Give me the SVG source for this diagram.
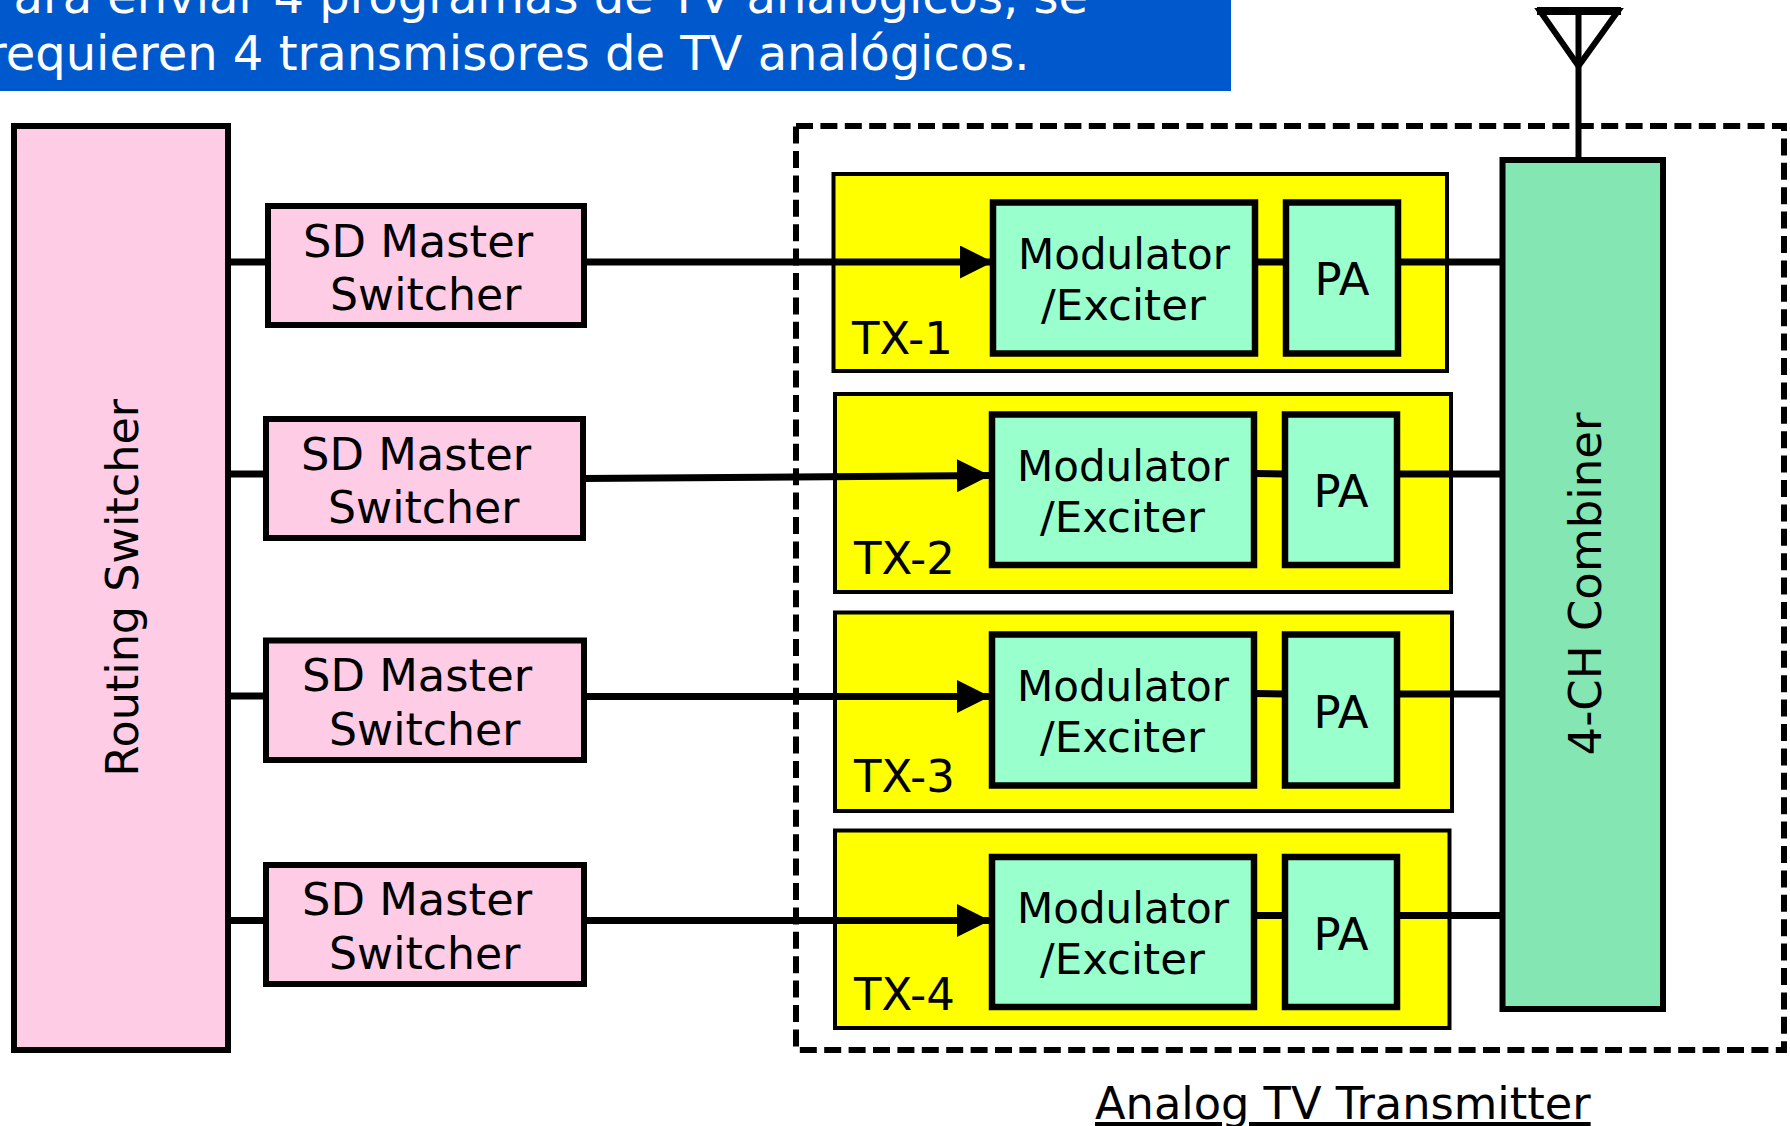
<svg xmlns="http://www.w3.org/2000/svg" width="1790" height="1126" viewBox="0 0 1790 1126">
<defs>
<style>
text{font-family:"DejaVu Sans",Verdana,sans-serif;fill:#000}
.sd{font-size:44.800px}
.s{font-size:44.200px}
.m{font-size:42px}
.e{font-size:43.500px}
.pa{font-size:45px}
.tx{font-size:45px}
.pink{fill:#FFCCE6;stroke:#000;stroke-width:6}
.mint{fill:#99FFCC;stroke:#000;stroke-width:6.500}
.yel{fill:#FFFF00;stroke:#000;stroke-width:4}
.w{fill:none;stroke:#000;stroke-width:7}
</style>
<marker id="ah" markerUnits="userSpaceOnUse" markerWidth="34" markerHeight="33" refX="33" refY="16.5" orient="auto"><path d="M0 0L33 16.5L0 33Z" fill="#000"/></marker>
</defs>
<rect width="1790" height="1126" fill="#fff"/>
<g id="banner">
<rect x="0" y="0" width="1231" height="91" fill="#0059CC"/>
<text x="13.500" y="13" font-size="48" style="fill:#fff">ara enviar 4 programas de TV analógicos, se</text>
<text x="-13" y="70" font-size="48" style="fill:#fff">requieren 4 transmisores de TV analógicos.</text>
</g>
<g id="analog-tv-transmitter">
<rect x="796" y="126" width="988" height="924" fill="none" stroke="#000" stroke-width="6" stroke-dasharray="17 7.4"/>
<text x="1095" y="1119" font-size="44.700" text-decoration="underline">Analog TV Transmitter</text>
</g>
<g id="routing-switcher">
<rect class="pink" x="14" y="126" width="214" height="924"/>
<text transform="translate(138 776.500) rotate(-90)" font-size="44.500">Routing Switcher</text>
</g>
<g id="sd-1"><rect class="pink" x="268" y="206" width="316" height="119"/><text class="sd" x="303" y="257">SD Master</text><text class="s" x="330" y="310">Switcher</text></g>
<g id="sd-2"><rect class="pink" x="266" y="419" width="317" height="119"/><text class="sd" x="301" y="470">SD Master</text><text class="s" x="328" y="523">Switcher</text></g>
<g id="sd-3"><rect class="pink" x="266" y="640.500" width="318" height="119.500"/><text class="sd" x="302" y="691">SD Master</text><text class="s" x="329" y="744.500">Switcher</text></g>
<g id="sd-4"><rect class="pink" x="266" y="865" width="318" height="119"/><text class="sd" x="302" y="915">SD Master</text><text class="s" x="329" y="968.500">Switcher</text></g>
<g id="tx-1"><rect class="yel" x="833.500" y="174" width="613.500" height="197"/><text class="tx" x="852" y="353.500">TX-1</text></g>
<g id="tx-2"><rect class="yel" x="835" y="394" width="616" height="198"/><text class="tx" x="854" y="574">TX-2</text></g>
<g id="tx-3"><rect class="yel" x="835" y="612.500" width="617" height="198.500"/><text class="tx" x="854" y="792">TX-3</text></g>
<g id="tx-4"><rect class="yel" x="835" y="830.500" width="614.500" height="197.500"/><text class="tx" x="854" y="1010">TX-4</text></g>
<g id="mod-1"><rect class="mint" x="993" y="202.500" width="262" height="151"/><text class="m" x="1018" y="269">Modulator</text><text class="e" x="1041" y="320">/Exciter</text></g>
<g id="pa-1"><rect class="mint" x="1286" y="202.500" width="112" height="151"/><text class="pa" x="1314.500" y="294.500">PA</text></g>
<g id="mod-2"><rect class="mint" x="992" y="414.500" width="262" height="150.500"/><text class="m" x="1017" y="481">Modulator</text><text class="e" x="1040" y="532">/Exciter</text></g>
<g id="pa-2"><rect class="mint" x="1285" y="414.500" width="112" height="150.500"/><text class="pa" x="1313.500" y="506.500">PA</text></g>
<g id="mod-3"><rect class="mint" x="992" y="634.500" width="262" height="151"/><text class="m" x="1017" y="701">Modulator</text><text class="e" x="1040" y="752">/Exciter</text></g>
<g id="pa-3"><rect class="mint" x="1285" y="634.500" width="112" height="151"/><text class="pa" x="1313.500" y="727.500">PA</text></g>
<g id="mod-4"><rect class="mint" x="992" y="857" width="262" height="150"/><text class="m" x="1017" y="923">Modulator</text><text class="e" x="1040" y="974">/Exciter</text></g>
<g id="pa-4"><rect class="mint" x="1285" y="857" width="112" height="150"/><text class="pa" x="1313.500" y="949.500">PA</text></g>
<g id="combiner"><rect x="1502.500" y="160" width="160.500" height="849" fill="#84E6B2" stroke="#000" stroke-width="6"/><text transform="translate(1601 755.500) rotate(-90)" font-size="45">4-CH Combiner</text></g>
<g id="antenna"><path d="M1540 11H1618L1578.500 66Z" fill="none" stroke="#000" stroke-width="6"/><path d="M1537 11H1621" fill="none" stroke="#000" stroke-width="8"/></g>
<g id="connectors" class="w">
<path d="M229 262H268"/><path d="M225 474H266"/><path d="M225 696H266"/><path d="M225 920.500H266"/>
<path d="M584 262H993" marker-end="url(#ah)"/>
<path d="M583 478.500L990 475.500" marker-end="url(#ah)"/>
<path d="M584 696.500H990" marker-end="url(#ah)"/>
<path d="M584 920.500H990" marker-end="url(#ah)"/>
<path d="M1255 262H1286"/><path d="M1254 473.500L1285 474"/><path d="M1254 693.500L1285 694"/><path d="M1254 915.500H1285"/>
<path d="M1398 262H1502"/><path d="M1397 474H1502"/><path d="M1397 694H1502"/><path d="M1397 915.500H1502"/>
<path d="M1578.500 10V158" stroke-width="6"/>
</g>
</svg>
